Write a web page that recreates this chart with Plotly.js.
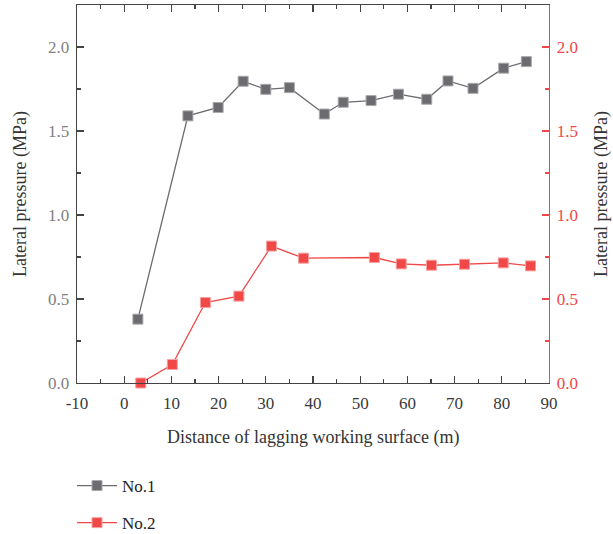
<!DOCTYPE html>
<html>
<head>
<meta charset="utf-8">
<script src="https://cdn.plot.ly/plotly-3.0.1.min.js"></script>
<style>html,body{margin:0;padding:0;background:#fff;}#chart{width:613px;height:534px;}</style>
</head>
<body>
<div id="chart"></div>
<script>
const no1X = [2.9, 13.5, 19.9, 25.2, 30.0, 35.0, 42.4, 46.4, 52.3, 58.1, 64.1, 68.6, 73.9, 80.4, 85.2];
const no1Y = [0.38, 1.59, 1.64, 1.796, 1.748, 1.758, 1.601, 1.671, 1.681, 1.719, 1.689, 1.798, 1.754, 1.874, 1.913];
const no2X = [3.5, 10.2, 17.2, 24.3, 31.2, 38.0, 53.0, 58.7, 65.1, 72.1, 80.3, 86.1];
const no2Y = [0.0, 0.11, 0.479, 0.517, 0.815, 0.743, 0.747, 0.709, 0.701, 0.707, 0.715, 0.697];
const seriesNames = ['No.1', 'No.2'];
const xTickVals = [-10, 0, 10, 20, 30, 40, 50, 60, 70, 80, 90];
const xTickLabels = ['-10', '0', '10', '20', '30', '40', '50', '60', '70', '80', '90'];
const yTickVals = [0, 0.5, 1.0, 1.5, 2.0];
const yTickLabels = ['0.0', '0.5', '1.0', '1.5', '2.0'];
const xTitle = 'Distance of lagging working surface (m)';
const yTitle = 'Lateral pressure (MPa)';

const gray = '#6b6b70';
const red = '#f04747';
const font = 'Liberation Serif, Times New Roman, serif';

const traces = [
  {x: no1X, y: no1Y, name: seriesNames[0], type: 'scatter', mode: 'lines+markers', legendgroup: 'a',
   line: {color: gray, width: 1.3},
   marker: {symbol: 'square', size: 10, color: gray, line: {color: '#a9a9ad', width: 1}}, cliponaxis: false},
  {x: no2X, y: no2Y, name: seriesNames[1], type: 'scatter', mode: 'lines+markers', yaxis: 'y2', legendgroup: 'b',
   line: {color: red, width: 1.3},
   marker: {symbol: 'square', size: 10, color: red, line: {color: '#f8a0a0', width: 1}}, cliponaxis: false}
];

const titleFont = {family: font, size: 18, color: '#333'};

const layout = {
  width: 613, height: 534,
  margin: {l: 77, r: 64, t: 5, b: 151, autoexpand: false},
  paper_bgcolor: '#fff', plot_bgcolor: '#fff',
  font: {family: font, size: 17, color: '#333'},
  showlegend: true,
  legend: {x: 72/613, xref: 'container', xanchor: 'left', y: 1 - 468/534, yref: 'container', yanchor: 'top',
           font: {family: font, size: 17, color: '#222'}, tracegroupgap: 12, traceorder: 'grouped',
           itemwidth: 40, bgcolor: 'rgba(0,0,0,0)'},
  xaxis: {
    range: [-10, 90], tickmode: 'array', tickvals: xTickVals, ticktext: xTickLabels,
    showgrid: false, zeroline: false, automargin: false,
    showline: true, linecolor: '#444', linewidth: 1.3, mirror: 'ticks',
    ticks: 'inside', ticklen: 7, tickwidth: 1.3, tickcolor: '#444', ticklabelstandoff: 4,
    minor: {ticks: 'inside', dtick: 5, tick0: 0, ticklen: 4, tickwidth: 1.2, tickcolor: '#444'},
    tickfont: {family: font, size: 17, color: '#3a3a3a'}
  },
  yaxis: {
    range: [0, 2.25], tickmode: 'array', tickvals: yTickVals, ticktext: yTickLabels,
    showgrid: false, zeroline: false, automargin: false,
    showline: true, linecolor: '#444', linewidth: 1.3,
    ticks: 'inside', ticklen: 7, tickwidth: 1.3, tickcolor: '#444', ticklabelstandoff: 3,
    minor: {ticks: 'inside', dtick: 0.25, tick0: 0, ticklen: 4, tickwidth: 1.2, tickcolor: '#444'},
    tickfont: {family: font, size: 17, color: '#808080'}
  },
  yaxis2: {
    range: [0, 2.25], tickmode: 'array', tickvals: yTickVals, ticktext: yTickLabels,
    showgrid: false, zeroline: false, automargin: false,
    overlaying: 'y', side: 'right',
    showline: true, linecolor: red, linewidth: 1.3,
    ticks: 'inside', ticklen: 7, tickwidth: 1.3, tickcolor: red, ticklabelstandoff: 3,
    minor: {ticks: 'inside', dtick: 0.25, tick0: 0, ticklen: 4, tickwidth: 1.2, tickcolor: red},
    tickfont: {family: font, size: 17, color: red}
  },
  annotations: [
    {text: xTitle, xref: 'paper', yref: 'paper', x: 0.5, y: -(437 - 383) / 378,
     xanchor: 'center', yanchor: 'middle', showarrow: false, font: titleFont},
    {text: yTitle, xref: 'paper', yref: 'paper', x: (20 - 77) / 472, y: 0.5, textangle: -90,
     xanchor: 'center', yanchor: 'middle', showarrow: false, font: titleFont},
    {text: yTitle, xref: 'paper', yref: 'paper', x: (601 - 77) / 472, y: 0.5, textangle: -90,
     xanchor: 'center', yanchor: 'middle', showarrow: false, font: titleFont}
  ]
};

Plotly.newPlot('chart', traces, layout, {displayModeBar: false, staticPlot: true});
</script>
</body>
</html>
